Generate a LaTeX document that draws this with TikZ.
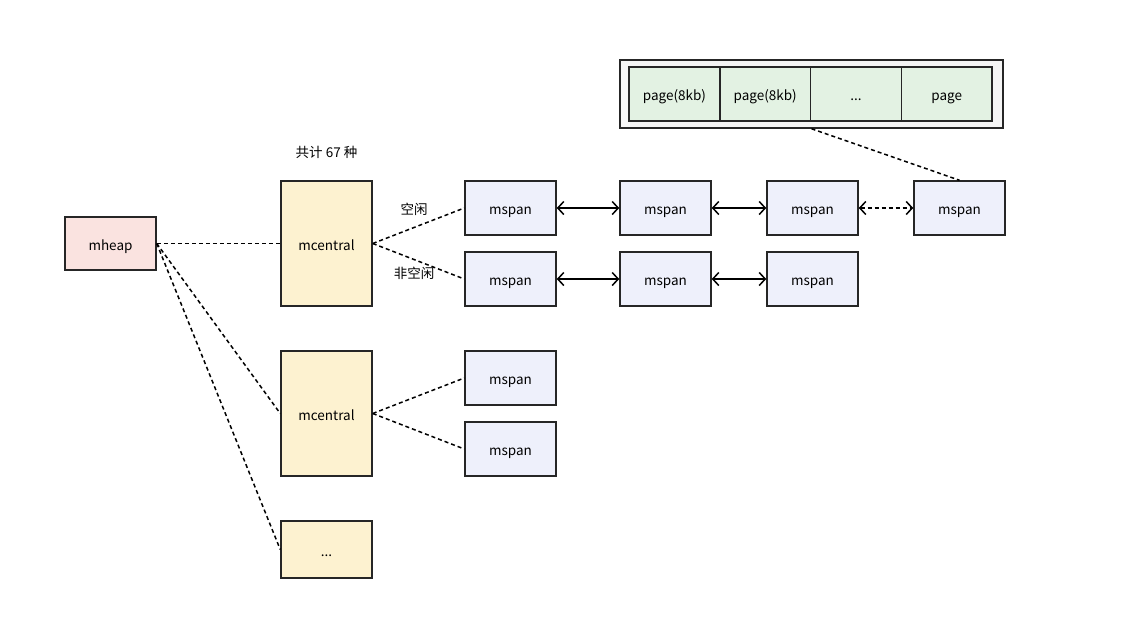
\documentclass[tikz,border=0pt]{standalone}
\usepackage{fontspec}
\setmainfont{Noto Sans CJK SC}
\usetikzlibrary{arrows.meta,positioning}
\definecolor{heapred}{HTML}{FAE3E0}
\definecolor{centralyellow}{HTML}{FDF2D0}
\definecolor{spanblue}{HTML}{EEF0FB}
\definecolor{pagegreen}{HTML}{E3F2E3}
\definecolor{framegray}{HTML}{F5F5F5}
\tikzset{
  box/.style={draw=black!85,line width=1.5pt,minimum width=91pt,minimum height=53pt,inner sep=0pt,
    text height=1.3em,text depth=0pt,font=\fontsize{13.5}{15}\selectfont},
  heapbox/.style={box,fill=heapred},
  centralbox/.style={box,fill=centralyellow,minimum height=125pt},
  spanbox/.style={box,fill=spanblue,minimum height=54pt},
  pagebox/.style={box,fill=pagegreen,minimum width=90.75pt,minimum height=54pt,outer sep=0pt},
  link/.style={line width=1.5pt,dash pattern=on 4pt off 3pt},
  chain/.style={line width=1.5pt,{Straight Barb[length=6pt,width=13pt]}-{Straight Barb[length=6pt,width=13pt]}},
  tag/.style={font=\fontsize{13.5}{15}\selectfont}
}
\begin{document}
\begin{tikzpicture}[x=1pt,y=-1pt]
    \useasboundingbox[fill=white] (0,0) rectangle (1128,641);

    % page frame
    \node[draw=black!85,line width=1.5pt,fill=framegray,minimum width=383pt,minimum height=68pt,inner sep=0pt] (frame) at (811.5,94) {};
    \node[pagebox] (p1) at (674.5,94) {page(8kb)};
    \node[pagebox,right=0pt of p1] (p2) {page(8kb)};
    \node[pagebox,right=0pt of p2] (p3) {...};
    \node[pagebox,right=0pt of p3] (p4) {page};

    \node[heapbox] (heap) at (110.5,243.5) {mheap};

    \node[centralbox] (c1) at (326.5,243.5) {mcentral};
    \node[centralbox] (c2) at (326.5,413.5) {mcentral};
    \node[box,fill=centralyellow,minimum height=57pt] (c3) at (326.5,549.5) {...};
    \node[tag,above=18pt of c1] (kinds) {共计 67 种};

    % free list
    \node[spanbox] (s11) at (510.5,208) {mspan};
    \node[spanbox] (s12) at (665.5,208) {mspan};
    \node[spanbox] (s13) at (812.5,208) {mspan};
    \node[spanbox] (s14) at (959.5,208) {mspan};
    % non-empty list
    \node[spanbox] (s21) at (510.5,279) {mspan};
    \node[spanbox] (s22) at (665.5,279) {mspan};
    \node[spanbox] (s23) at (812.5,279) {mspan};

    \node[spanbox] (s31) at (510.5,378) {mspan};
    \node[spanbox] (s32) at (510.5,449) {mspan};

    \node[tag] (free) at (414,209) {空闲};
    \node[tag] (busy) at (414,273) {非空闲};

    \draw[link] (heap.east) -- (c1.west);
    \draw[link] (heap.east) -- (c2.west);
    \draw[link] (heap.east) -- (c3.west);

    \draw[link] (c1.east) -- (s11.west);
    \draw[link] (c1.east) -- (s21.west);
    \draw[link] (c2.east) -- (s31.west);
    \draw[link] (c2.east) -- (s32.west);

    \draw[chain] (s11) -- (s12);
    \draw[chain] (s12) -- (s13);
    \draw[chain,dash pattern=on 4pt off 3pt] (s13) -- (s14);
    \draw[chain] (s21) -- (s22);
    \draw[chain] (s22) -- (s23);

    \draw[link] (frame.south) -- (s14.north);
\end{tikzpicture}
\end{document}
